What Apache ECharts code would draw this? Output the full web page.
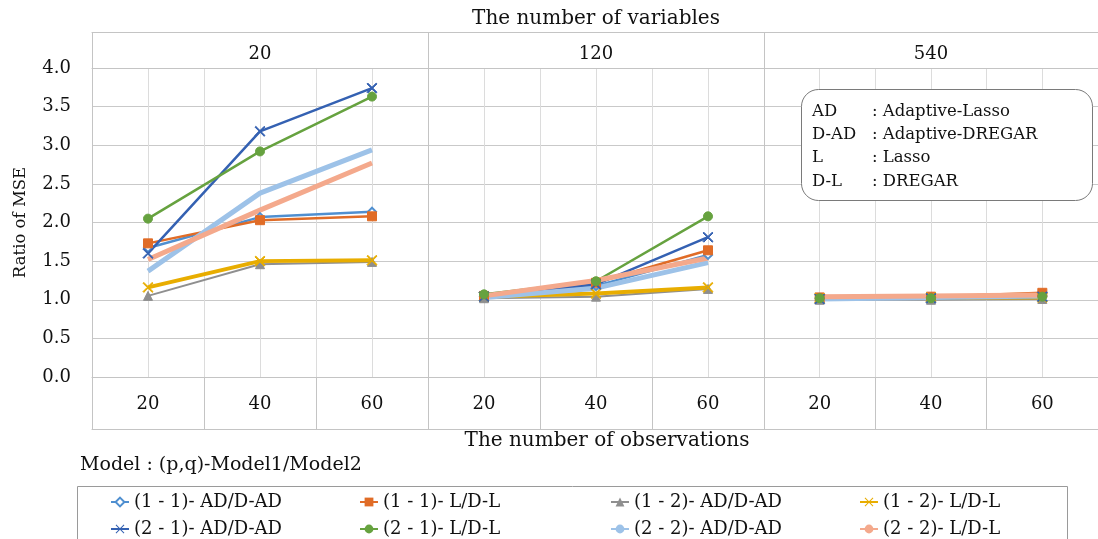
<!DOCTYPE html>
<html>
<head>
<meta charset="utf-8">
<script src="https://cdn.jsdelivr.net/npm/echarts@6/dist/echarts.min.js"></script>
<style>
  html, body { margin: 0; padding: 0; background: #ffffff; }
  #chart { width: 1098px; height: 539px; }
</style>
</head>
<body>
<div id="chart"></div>
<script>
// Inner category level (observations) and outer level (variables)
const observations = ['20', '40', '60'];
const variableCounts = ['20', '120', '540'];

const seriesNames = [
  '(1 - 1)- AD/D-AD', '(1 - 1)- L/D-L', '(1 - 2)- AD/D-AD', '(1 - 2)- L/D-L',
  '(2 - 1)- AD/D-AD', '(2 - 1)- L/D-L', '(2 - 2)- AD/D-AD', '(2 - 2)- L/D-L'
];

// Ratio of MSE: three observation counts for each variable-count panel (20 | 120 | 540)
const ad11 = [1.67, 2.07, 2.14,  1.04, 1.18, 1.58,  1.02, 1.03, 1.05];
const l11  = [1.73, 2.03, 2.08,  1.05, 1.22, 1.64,  1.03, 1.04, 1.09];
const ad12 = [1.05, 1.46, 1.49,  1.02, 1.04, 1.14,  1.00, 1.00, 1.01];
const l12  = [1.16, 1.50, 1.51,  1.04, 1.08, 1.16,  1.02, 1.03, 1.03];
const ad21 = [1.60, 3.18, 3.74,  1.04, 1.20, 1.81,  1.01, 1.02, 1.04];
const l21  = [2.05, 2.92, 3.63,  1.07, 1.24, 2.08,  1.02, 1.02, 1.04];
const ad22 = [1.37, 2.38, 2.94,  1.03, 1.15, 1.48,  1.01, 1.03, 1.05];
const l22  = [1.52, 2.16, 2.77,  1.05, 1.25, 1.54,  1.04, 1.05, 1.06];
const seriesValues = [ad11, l11, ad12, l12, ad21, l21, ad22, l22];

// Abbreviation key
const abbrKeys = ['AD', 'D-AD', 'L', 'D-L'];
const abbrNames = [': Adaptive-Lasso', ': Adaptive-DREGAR', ': Lasso', ': DREGAR'];

const legendTitle = 'Model : (p,q)-Model1/Model2';
const xTitle = 'The number of observations';
const topTitle = 'The number of variables';
const yTitle = 'Ratio of MSE';

// ---- styling ----
const FONT = '"DejaVu Serif", serif';
const TXT = '#111111';
const H_GRID = '#c9c9c9';
const V_GRID = '#dcdcdc';
const FRAME = '#c4c4c4';

// thin diagonal cross marker
const crossPath = 'path://M0,0.8L0.8,0L5,4.2L9.2,0L10,0.8L5.8,5L10,9.2L9.2,10L5,5.8L0.8,10L0,9.2L4.2,5Z';
const seriesStyles = [
  { color: '#4f8fd0', width: 2.5, symbol: 'emptyDiamond', size: 8 },
  { color: '#e06c27', width: 2.5, symbol: 'rect', size: 9 },
  { color: '#8f8f8f', width: 2,   symbol: 'triangle', size: 9 },
  { color: '#e8ad00', width: 4,   symbol: crossPath, size: 10 },
  { color: '#3461b2', width: 2.5, symbol: crossPath, size: 10 },
  { color: '#66a23f', width: 2.5, symbol: 'circle', size: 9 },
  { color: '#9dc2e8', width: 5,   symbol: 'none', size: 0 },
  { color: '#f4a98c', width: 5,   symbol: 'none', size: 0 }
];

// ---- layout ----
const PANEL_LEFT = 92, PANEL_W = 336, PLOT_TOP = 68, PLOT_H = 309;
const BAND_BELOW = 52, BAND_ABOVE = 36;

const grids = [], xAxes = [], yAxes = [], series = [];

for (let g = 0; g < 3; g++) {
  grids.push({ left: PANEL_LEFT + PANEL_W * g, top: PLOT_TOP, width: PANEL_W, height: PLOT_H });
  const mid = g === 1;

  // A: observation categories with the label band below the plot
  xAxes.push({
    gridIndex: g, type: 'category', position: 'bottom', data: observations, boundaryGap: true,
    axisLine: { show: true, lineStyle: { color: FRAME, width: 1 } },
    axisTick: { show: true, length: BAND_BELOW, lineStyle: { color: FRAME } },
    axisLabel: { margin: 18, fontSize: 18, color: TXT, fontFamily: FONT },
    splitLine: { show: false }
  });
  // B: vertical gridlines at half-category steps
  xAxes.push({
    gridIndex: g, type: 'value', position: 'bottom', min: 0, max: 6, interval: 1,
    axisLine: { show: false }, axisTick: { show: false }, axisLabel: { show: false },
    splitLine: { show: true, lineStyle: { color: V_GRID, width: 1 } }
  });
  // C: bottom edge of the label band
  xAxes.push({
    gridIndex: g, type: 'value', position: 'bottom', offset: BAND_BELOW, min: 0, max: 1,
    axisLine: { show: true, lineStyle: { color: FRAME } },
    axisTick: { show: false }, axisLabel: { show: false }, splitLine: { show: false },
    name: mid ? xTitle : '', nameLocation: 'middle', nameGap: 2,
    nameTextStyle: { fontSize: 20, color: TXT, fontFamily: FONT, padding: [0, 0, 0, 22] }
  });
  // D: variable-count header above the plot
  xAxes.push({
    gridIndex: g, type: 'category', position: 'top', data: [variableCounts[g]], boundaryGap: true,
    axisLine: { show: true, lineStyle: { color: FRAME } },
    axisTick: { show: true, length: BAND_ABOVE, lineStyle: { color: FRAME } },
    axisLabel: { margin: 5, fontSize: 18, color: TXT, fontFamily: FONT },
    splitLine: { show: false }
  });
  // E: top edge of the header band
  xAxes.push({
    gridIndex: g, type: 'value', position: 'top', offset: BAND_ABOVE, min: 0, max: 1,
    axisLine: { show: true, lineStyle: { color: FRAME } },
    axisTick: { show: false }, axisLabel: { show: false }, splitLine: { show: false },
    name: mid ? topTitle : '', nameLocation: 'middle', nameGap: 3,
    nameTextStyle: { fontSize: 20, color: TXT, fontFamily: FONT }
  });

  yAxes.push({
    gridIndex: g, type: 'value', min: 0, max: 4, interval: 0.5,
    axisLine: { show: true, lineStyle: { color: FRAME } },
    axisTick: { show: false },
    axisLabel: {
      show: g === 0, margin: 21, fontSize: 18, color: TXT, fontFamily: FONT,
      formatter: v => v.toFixed(1)
    },
    splitLine: { show: true, lineStyle: { color: H_GRID, width: 1 } },
    name: g === 0 ? yTitle : '', nameLocation: 'middle', nameGap: 63,
    nameTextStyle: { fontSize: 16.5, color: TXT, fontFamily: FONT }
  });

  seriesNames.forEach((name, s) => {
    const st = seriesStyles[s];
    series.push({
      name, type: 'line', xAxisIndex: 5 * g, yAxisIndex: g,
      data: seriesValues[s].slice(3 * g, 3 * g + 3),
      symbol: st.symbol, symbolSize: st.size, showSymbol: st.symbol !== 'none',
      lineStyle: { color: st.color, width: st.width },
      itemStyle: { color: st.color, borderColor: st.color },
      emphasis: { disabled: true },
      animation: false
    });
  });
}

// Legend: four columns by two rows, one entry per component
const legendCols = [110, 359, 610, 859];
const legendRows = [492, 519];
const legends = seriesNames.map((name, i) => ({
  orient: 'horizontal', left: legendCols[i % 4], top: legendRows[Math.floor(i / 4)],
  padding: 0, itemWidth: 18, itemHeight: 11,
  data: [name],
  textStyle: { fontSize: 18, lineHeight: 20, color: TXT, fontFamily: FONT },
  selectedMode: false
}));

// Abbreviation box
const keyBox = { x: 801, y: 89, w: 291, h: 111 };
const keyTexts = [];
abbrKeys.forEach((k, i) => {
  const y = keyBox.y + 22 + i * 23.3;
  keyTexts.push({ type: 'text', left: 812, top: y - 8,
    style: { text: k, font: '16.5px ' + FONT, fill: TXT } });
  keyTexts.push({ type: 'text', left: 872, top: y - 8,
    style: { text: abbrNames[i], font: '16.5px ' + FONT, fill: TXT } });
});

const chart = echarts.init(document.getElementById('chart'), null, { renderer: 'canvas' });
chart.setOption({
  backgroundColor: '#ffffff',
  animation: false,
  title: {
    text: legendTitle, left: 80, top: 456, padding: 0,
    textStyle: { fontSize: 19, fontWeight: 'normal', color: TXT, fontFamily: FONT }
  },
  grid: grids,
  xAxis: xAxes,
  yAxis: yAxes,
  legend: legends,
  series,
  graphic: [
    { type: 'rect', left: 75, top: 484, shape: { width: 990, height: 80 },
      style: { fill: 'none', stroke: '#9a9a9a', lineWidth: 1 }, silent: true },
    { type: 'rect', left: keyBox.x, top: keyBox.y,
      shape: { width: keyBox.w, height: keyBox.h, r: 17 },
      style: { fill: '#ffffff', stroke: '#7a7a7a', lineWidth: 1 }, silent: true, z: 100 },
    ...keyTexts.map(t => Object.assign(t, { z: 101, silent: true }))
  ]
});
</script>
</body>
</html>
